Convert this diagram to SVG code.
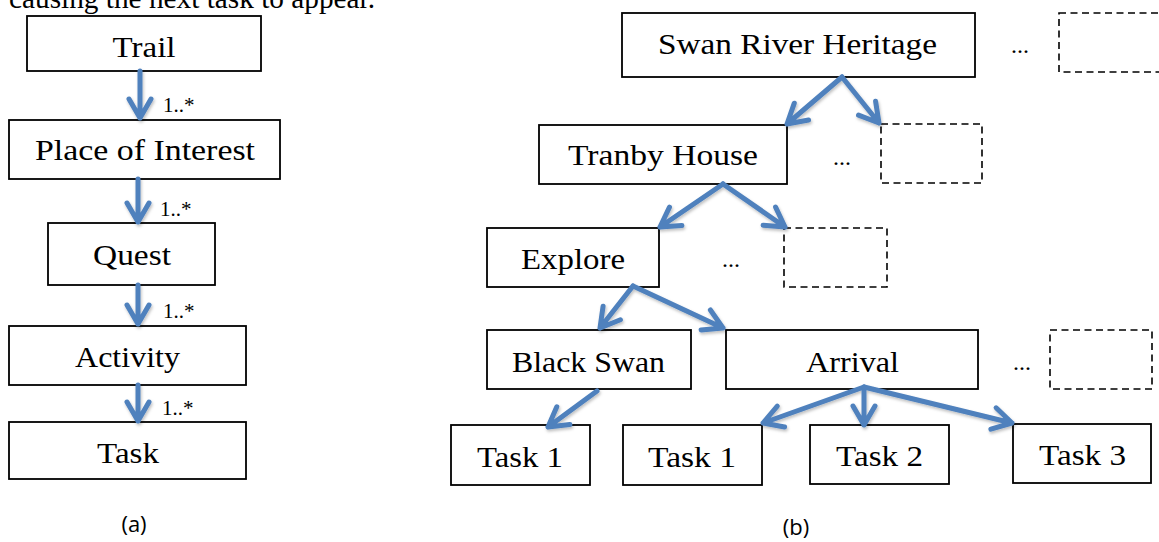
<svg xmlns="http://www.w3.org/2000/svg" width="1159" height="542" viewBox="0 0 1159 542">
  <style>
    .box { fill: #ffffff; stroke: #000000; stroke-width: 1.8; }
    .dash { fill: none; stroke: #000000; stroke-width: 1.6; stroke-dasharray: 7 4.5; }
    .lbl { font-family: "Liberation Serif", "Times New Roman", serif; font-size: 30px; fill: #000000; text-anchor: middle; }
    .mult { font-family: "Liberation Serif", "Times New Roman", serif; font-size: 21px; fill: #000000; }
    .dots { font-family: "Liberation Serif", "Times New Roman", serif; font-size: 24px; fill: #000000; text-anchor: middle; }
    .cap { font-family: "Open Sans", "Liberation Sans", sans-serif; font-size: 22px; fill: #000000; text-anchor: middle; }
    .body { font-family: "Liberation Serif", "Times New Roman", serif; font-size: 29px; fill: #000000; }
    .arr { fill: none; stroke: #4F81BD; stroke-width: 5; stroke-linecap: round; stroke-linejoin: round; }
  </style>
  <defs>
    <filter id="shadow" x="-10%" y="-10%" width="130%" height="130%">
      <feDropShadow dx="1" dy="2" stdDeviation="1.5" flood-color="#000000" flood-opacity="0.25"/>
    </filter>
  </defs>

  <rect width="1159" height="542" fill="#ffffff"/>

  <!-- running text above the figure, clipped by the page edge -->
  <text class="body" x="9" y="7.5" textLength="366" lengthAdjust="spacingAndGlyphs">causing the next task to appear.</text>

  <!-- (a) model hierarchy -->
  <g id="trail"><rect class="box" x="27" y="16" width="234" height="55"/><text class="lbl" x="144" y="57" textLength="63" lengthAdjust="spacingAndGlyphs">Trail</text></g>
  <g id="place-of-interest"><rect class="box" x="9" y="120" width="271" height="59"/><text class="lbl" x="145" y="160" textLength="220" lengthAdjust="spacingAndGlyphs">Place of Interest</text></g>
  <g id="quest"><rect class="box" x="48" y="223" width="167" height="62"/><text class="lbl" x="132" y="265" textLength="78" lengthAdjust="spacingAndGlyphs">Quest</text></g>
  <g id="activity"><rect class="box" x="9" y="326" width="237" height="59"/><text class="lbl" x="127.5" y="367" textLength="105" lengthAdjust="spacingAndGlyphs">Activity</text></g>
  <g id="task"><rect class="box" x="9" y="422" width="237" height="57"/><text class="lbl" x="128" y="463" textLength="62" lengthAdjust="spacingAndGlyphs">Task</text></g>

  <g id="mult-labels">
    <text class="mult" x="163" y="112">1..*</text>
    <text class="mult" x="160" y="216">1..*</text>
    <text class="mult" x="163" y="318">1..*</text>
    <text class="mult" x="162" y="415">1..*</text>
  </g>

  <text class="cap" x="134" y="532">(a)</text>

  <!-- (b) example instance tree -->
  <g id="swan-river-heritage"><rect class="box" x="622" y="13" width="353" height="64"/><text class="lbl" x="797.5" y="54" textLength="279" lengthAdjust="spacingAndGlyphs">Swan River Heritage</text></g>
  <g id="tranby-house"><rect class="box" x="539" y="125" width="248" height="59"/><text class="lbl" x="663" y="165" textLength="190" lengthAdjust="spacingAndGlyphs">Tranby House</text></g>
  <g id="explore"><rect class="box" x="487" y="228" width="172" height="59"/><text class="lbl" x="573" y="269" textLength="104" lengthAdjust="spacingAndGlyphs">Explore</text></g>
  <g id="black-swan"><rect class="box" x="487" y="330" width="204" height="59"/><text class="lbl" x="588.5" y="372" textLength="153" lengthAdjust="spacingAndGlyphs">Black Swan</text></g>
  <g id="arrival"><rect class="box" x="726" y="330" width="252" height="59"/><text class="lbl" x="852.5" y="372" textLength="93" lengthAdjust="spacingAndGlyphs">Arrival</text></g>
  <g id="bs-task-1"><rect class="box" x="451" y="425" width="139" height="60"/><text class="lbl" x="520" y="467" textLength="86" lengthAdjust="spacingAndGlyphs">Task 1</text></g>
  <g id="ar-task-1"><rect class="box" x="623" y="425" width="139" height="60"/><text class="lbl" x="692" y="467" textLength="88" lengthAdjust="spacingAndGlyphs">Task 1</text></g>
  <g id="ar-task-2"><rect class="box" x="810" y="425" width="139" height="59"/><text class="lbl" x="879.5" y="466" textLength="87" lengthAdjust="spacingAndGlyphs">Task 2</text></g>
  <g id="ar-task-3"><rect class="box" x="1013" y="424" width="138" height="59"/><text class="lbl" x="1082.5" y="465" textLength="87" lengthAdjust="spacingAndGlyphs">Task 3</text></g>

  <!-- elided siblings -->
  <g id="more-trails"><text class="dots" x="1020" y="53">...</text><rect class="dash" x="1059" y="13" width="120" height="59"/></g>
  <g id="more-places"><text class="dots" x="842" y="165">...</text><rect class="dash" x="881" y="124" width="101" height="59"/></g>
  <g id="more-quests"><text class="dots" x="731" y="267">...</text><rect class="dash" x="784" y="228" width="103" height="59"/></g>
  <g id="more-activities"><text class="dots" x="1022" y="370">...</text><rect class="dash" x="1050" y="330" width="102" height="59"/></g>

  <text class="cap" x="796" y="535">(b)</text>

  <!-- connectors: shaft plus open chevron head -->
  <g id="connectors" filter="url(#shadow)">
    <path class="arr" d="M140 71 L140 118 M129 99 L140 118 L151 99"/>
    <path class="arr" d="M138 179 L138 222 M127 203 L138 222 L149 203"/>
    <path class="arr" d="M138 285 L138 324 M127 305 L138 324 L149 305"/>
    <path class="arr" d="M138 385 L138 421 M127 402 L138 421 L149 402"/>

    <path class="arr" d="M842 77 L787 124 M808.6 120 L787 124 L794.3 103.2"/>
    <path class="arr" d="M842 77 L879 123 M875.6 101.3 L879 123 L858.5 115.1"/>
    <path class="arr" d="M723 184 L660 227 M681.9 225.4 L660 227 L669.5 207.2"/>
    <path class="arr" d="M723 184 L785 227 M775.6 207.1 L785 227 L763.1 225.2"/>
    <path class="arr" d="M633 286 L600 328 M620.4 319.8 L600 328 L603.1 306.2"/>
    <path class="arr" d="M633 286 L723 328 M710.4 310 L723 328 L701.1 329.9"/>
    <path class="arr" d="M597 391 L548 427 M569.9 424.6 L548 427 L556.8 406.8"/>
    <path class="arr" d="M864 387 L763 423 M784.6 427 L763 423 L777.3 406.2"/>
    <path class="arr" d="M864 387 L864 425 M853 406 L864 425 L875 406"/>
    <path class="arr" d="M864 387 L1012 423 M996.1 407.8 L1012 423 L990.9 429.2"/>
  </g>
</svg>
